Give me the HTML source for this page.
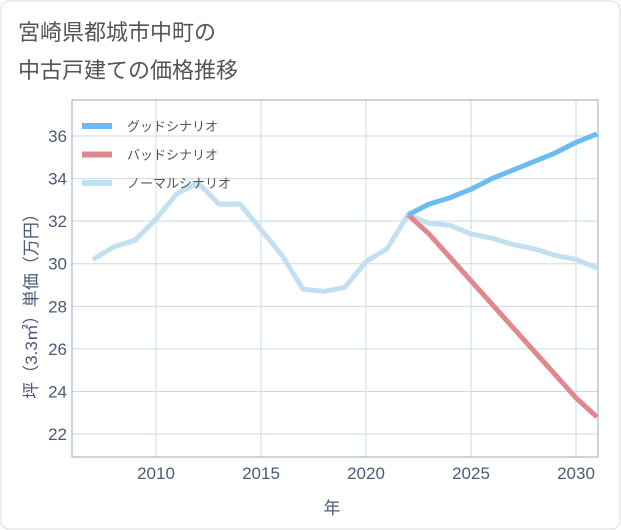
<!DOCTYPE html>
<html><head><meta charset="utf-8"><style>
body{margin:0;background:#fff;}
#c{width:621px;height:530px;position:relative;overflow:hidden;}
svg text{font-family:"Liberation Sans","Noto Sans CJK JP",sans-serif;}
</style></head><body>
<div id="c">
<svg id="s" width="621" height="530" xmlns="http://www.w3.org/2000/svg">
<rect x="1" y="1" width="619" height="528" rx="8" fill="#fff" stroke="#ddd"/>
<text x="18" y="40" font-size="22" fill="#555">宮崎県都城市中町の</text>
<text x="18" y="78" font-size="22" fill="#555">中古戸建ての価格推移</text>
<text transform="translate(37,302) rotate(-90)" text-anchor="middle" font-size="17" fill="#4a5a78">坪（3.3㎡）単価（万円）</text>
<text x="332" y="514" text-anchor="middle" font-size="17" fill="#4a5a78">年</text>
<g id="grid"></g><g id="lines"></g><g id="legend"></g>
</svg>
</div>
<script>
const years=[2007,2008,2009,2010,2011,2012,2013,2014,2015,2016,2017,2018,2019,2020,2021,2022,2023,2024,2025,2026,2027,2028,2029,2030,2031];
const normalVals=[30.2,30.8,31.1,32.1,33.3,33.8,32.8,32.8,31.6,30.4,28.8,28.7,28.9,30.1,30.7,32.3,31.9,31.8,31.4,31.2,30.9,30.7,30.4,30.2,29.8];
const futureYears=[2022,2023,2024,2025,2026,2027,2028,2029,2030,2031];
const goodVals=[32.3,32.8,33.1,33.5,34.0,34.4,34.8,35.2,35.7,36.1];
const badVals=[32.3,31.4,30.3,29.2,28.1,27.0,25.9,24.8,23.7,22.8];
const yTicks=[22,24,26,28,30,32,34,36];
const xTicks=[2010,2015,2020,2025,2030];
const L=72,R=598,T=100,B=457;
const xs=y=>156+(y-2010)*21;
const ys=v=>136+(36-v)*21.29;
const NS="http://www.w3.org/2000/svg";
function mk(t,a,p){const e=document.createElementNS(NS,t);for(const k in a)e.setAttribute(k,a[k]);p.appendChild(e);return e;}
const g=document.getElementById('grid');
yTicks.forEach(v=>{
 const l=mk('line',{x1:L,x2:R,y1:ys(v),y2:ys(v),stroke:'#c9dbe8','stroke-width':1},g);
 
 
 const t=mk('text',{x:L-5,y:ys(v)+6,'text-anchor':'end','font-size':17,fill:'#4a5a78'},g);t.textContent=v;
 
 
});
xTicks.forEach(v=>{
 const l=mk('line',{x1:xs(v),x2:xs(v),y1:T,y2:B,stroke:'#c9dbe8','stroke-width':1},g);
 
 
 const t=mk('text',{x:xs(v),y:B+22,'text-anchor':'middle','font-size':17,fill:'#4a5a78'},g);t.textContent=v;
 
 
});
const fr=mk('rect',{x:L,y:T,width:R-L,height:B-T,fill:'none',stroke:'#9aa8b8','stroke-width':1},g);


const ln=document.getElementById('lines');
function series(xv,yv,col,name){
 const d=xv.map((x,i)=>(i?'L':'M')+xs(x)+','+ys(yv[i])).join(' ');
 const p=mk('path',{d:d,fill:'none',stroke:col,'stroke-width':5,'stroke-linejoin':'round'},ln);
 
 
}
const cp=mk('clipPath',{id:'cp'},document.getElementById('s'));mk('rect',{x:L,y:T,width:R-L,height:B-T},cp);
ln.setAttribute('clip-path','url(#cp)');
series(years,normalVals,'#c2e0ef','normal-scenario-line');
series(futureYears,badVals,'#e0888e','bad-scenario-line');
series(futureYears,goodVals,'#6bbcf2','good-scenario-line');
const lg=document.getElementById('legend');
[['グッドシナリオ','#6bbcf2'],['バッドシナリオ','#e0888e'],['ノーマルシナリオ','#c2e0ef']].forEach((e,i)=>{
 const y=126+i*28.5;
 const l=mk('line',{x1:82,x2:112,y1:y,y2:y,stroke:e[1],'stroke-width':6},lg);
 
 
 const t=mk('text',{x:127,y:y+5,'font-size':13,fill:'#555'},lg);t.textContent=e[0];
 
 
});
</script>
</body></html>
